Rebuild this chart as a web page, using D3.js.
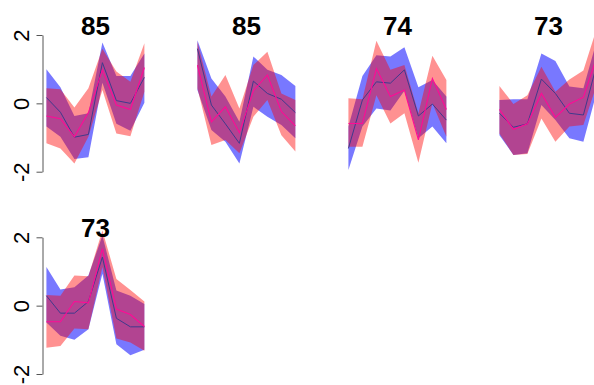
<!DOCTYPE html>
<html>
<head>
<meta charset="utf-8">
<script src="https://cdn.jsdelivr.net/npm/d3@7"></script>
<style>
  html, body { margin: 0; padding: 0; background: #fff; }
  svg { display: block; }
  text { font-family: "Liberation Sans", Arial, Helvetica, sans-serif; }
</style>
</head>
<body>
<div id="chart"></div>
<script>
// Cluster profiles: mean line and lower/upper band per group, 8 positions each
const positions = [1, 2, 3, 4, 5, 6, 7, 8];
const panelTitles = ["85", "85", "74", "73", "73"];
const yTicks = [-2, 0, 2];

// Group A (blue)
const blueMean = [
  [0.17, -0.26, -0.99, -0.91, 1.19, 0.08, 0.00, 0.76],
  [1.60, -0.05, -0.60, -1.17, 0.65, 0.29, 0.12, -0.27],
  [-1.32, 0.10, 0.63, 0.59, 0.98, -0.37, -0.02, -0.49],
  [-0.29, -0.70, -0.60, 0.71, 0.29, -0.29, -0.34, 1.20],
  [0.29, -0.22, -0.22, 0.12, 1.42, -0.37, -0.62, -0.62]
];
const blueLow = [
  [-0.68, -0.98, -1.63, -1.58, 0.60, -0.60, -0.80, 0.02],
  [0.39, -0.78, -1.12, -1.76, -0.10, -0.39, -0.63, -1.02],
  [-1.95, -0.68, -0.15, -0.21, 0.37, -1.02, -0.68, -1.17],
  [-0.93, -1.51, -1.46, -0.05, -0.49, -1.02, -1.12, 0.40],
  [-0.49, -0.88, -1.00, -0.69, 0.93, -1.13, -1.45, -1.29]
];
const blueHigh = [
  [1.00, 0.47, -0.37, -0.29, 1.78, 0.80, 0.80, 1.46],
  [1.85, 0.73, 0.20, -0.54, 1.37, 0.98, 0.83, 0.51],
  [-0.68, 0.80, 1.41, 1.37, 1.64, 0.47, 0.68, 0.20],
  [0.10, 0.12, 0.12, 1.46, 1.24, 0.49, 0.44, 1.90],
  [1.13, 0.47, 0.54, 0.88, 2.05, 0.44, 0.29, 0.05]
];

// Group B (red)
const redMean = [
  [-0.37, -0.45, -0.98, -0.27, 0.98, -0.05, -0.18, 1.05],
  [1.12, -0.54, -0.10, -0.86, 0.37, 0.83, -0.24, -0.66],
  [-0.59, -0.59, 1.02, 0.20, 0.39, -1.07, 0.73, -0.18],
  [-0.18, -0.76, -0.60, 0.29, -0.41, -0.02, 0.18, 1.40],
  [-0.47, -0.47, 0.12, 0.08, 1.67, -0.10, -0.26, -0.61]
];
const redLow = [
  [-1.17, -1.32, -1.76, -0.98, 0.39, -0.88, -0.96, 0.34],
  [0.44, -1.22, -1.07, -1.46, -0.39, 0.10, -0.93, -1.41],
  [-1.27, -1.27, 0.24, -0.59, -0.29, -1.74, 0.00, -0.98],
  [-0.88, -1.51, -1.48, -0.44, -1.12, -0.68, -0.63, 0.60],
  [-1.23, -1.18, -0.67, -0.69, 1.13, -0.96, -1.08, -1.32]
];
const redHigh = [
  [0.44, 0.41, -0.12, 0.44, 1.60, 0.93, 0.63, 1.76],
  [1.80, 0.20, 0.83, -0.15, 1.12, 1.51, 0.29, 0.10],
  [0.15, 0.12, 1.83, 0.98, 1.12, -0.29, 1.39, 0.68],
  [0.51, -0.02, 0.24, 1.07, 0.34, 0.70, 0.96, 2.25],
  [0.31, 0.29, 0.88, 0.86, 2.20, 0.78, 0.46, 0.12]
];

const W = 594, H = 385;
const plotW = 105.8;              // width of each plot region
const colStep = 151, rowStep = 202.3;
const firstLeft = 42.5;
const yTop = 35, yBottom = 171.7; // pixel rows of the +2 / -2 ticks in row 1

const svg = d3.select("#chart").append("svg")
  .attr("width", W).attr("height", H);

panelTitles.forEach((title, i) => {
  const col = i % 4, row = Math.floor(i / 4);
  const left = firstLeft + col * colStep;
  const dy = row * rowStep;

  const x = d3.scaleLinear().domain([0.72, 8.28]).range([left, left + plotW]);
  const y = d3.scaleLinear().domain([-2, 2]).range([yBottom + dy, yTop + dy]);

  const g = svg.append("g");

  const band = (lo, hi) => d3.area()
    .x((d, k) => x(positions[k]))
    .y0((d, k) => y(lo[k]))
    .y1((d, k) => y(hi[k]))(positions);
  const line = vals => d3.line()
    .x((d, k) => x(positions[k]))
    .y((d, k) => y(vals[k]))(positions);

  g.append("path").attr("d", band(blueLow[i], blueHigh[i]))
    .attr("fill", "rgba(0,0,255,0.53)");
  g.append("path").attr("d", band(redLow[i], redHigh[i]))
    .attr("fill", "rgba(255,0,0,0.43)");
  g.append("path").attr("d", line(blueMean[i]))
    .attr("fill", "none").attr("stroke", "#3f3a8c").attr("stroke-width", 1);
  g.append("path").attr("d", line(redMean[i]))
    .attr("fill", "none").attr("stroke", "#ff0a96").attr("stroke-width", 1.1);

  // panel title
  svg.append("text")
    .attr("x", left + plotW / 2)
    .attr("y", yTop + dy)
    .attr("text-anchor", "middle")
    .attr("font-weight", "bold")
    .attr("font-size", 26)
    .attr("fill", "#000")
    .text(title);

  // y axis on the first column only
  if (col === 0) {
    const ax = svg.append("g")
      .attr("transform", `translate(${left},0)`)
      .call(d3.axisLeft(y).tickValues(yTicks).tickSize(6).tickSizeOuter(0).tickPadding(0)
        .tickFormat(d => String(d)));
    ax.select(".domain").attr("stroke", "#555");
    ax.selectAll(".tick line").attr("stroke", "#555");
    ax.selectAll(".tick text")
      .attr("font-size", 22)
      .attr("fill", "#000")
      .attr("font-family", "\"Liberation Sans\", Arial, sans-serif")
      .attr("x", null).attr("dy", null)
      .attr("text-anchor", "middle")
      .attr("transform", "translate(-14,0) rotate(-90)");
  }
});
</script>
</body>
</html>
